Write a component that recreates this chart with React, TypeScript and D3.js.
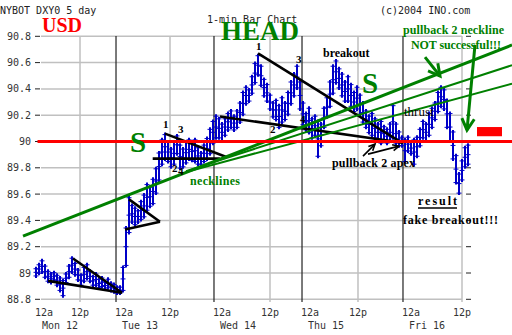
import React from 'react';
import * as d3 from 'd3';

// 1-min bars, sampled: high / low per bar (bar index axis, nights compressed)
const highs = [
  89.04, 89.07, 89.10, 89.06, 89.02, 89.00, 89.01, 88.99, 88.97, 88.95,
  89.00, 89.06, 89.12, 89.08, 89.03, 88.99, 89.05, 89.07, 89.02, 88.98,
  89.00, 88.96, 88.97, 88.94, 88.96, 88.93, 88.92, 88.90, 88.90, 89.05,
  89.35, 89.58, 89.52, 89.50, 89.48, 89.55, 89.60, 89.68, 89.66, 89.72,
  89.80, 89.92, 90.02, 90.06, 90.00, 89.95, 90.00, 90.05, 89.98, 89.95,
  90.00, 90.02, 90.00, 90.02, 89.96, 89.92, 89.98, 90.03, 90.10, 90.16,
  90.20, 90.18, 90.14, 90.18, 90.22, 90.24, 90.20, 90.24, 90.30, 90.38,
  90.42, 90.40, 90.50, 90.60, 90.66, 90.58, 90.48, 90.44, 90.36, 90.30,
  90.32, 90.28, 90.34, 90.30, 90.38, 90.46, 90.52, 90.58, 90.46, 90.30,
  90.22, 90.26, 90.18, 90.20, 90.16, 90.14, 90.26, 90.34, 90.46, 90.58,
  90.62, 90.56, 90.52, 90.46, 90.50, 90.44, 90.38, 90.42, 90.36, 90.30,
  90.24, 90.20, 90.22, 90.18, 90.14, 90.16, 90.12, 90.10, 90.14, 90.28,
  90.14, 90.08, 90.04, 90.02, 90.04, 90.00, 90.02, 90.04, 90.10, 90.16,
  90.14, 90.22, 90.26, 90.30, 90.38, 90.42, 90.40, 90.32, 90.22, 90.08,
  89.90, 89.76, 89.86, 89.96, 89.98,
];
const lows = [
  88.97, 88.99, 89.00, 88.96, 88.93, 88.92, 88.94, 88.90, 88.86, 88.82,
  88.92, 88.96, 89.00, 88.98, 88.94, 88.90, 88.93, 88.95, 88.93, 88.90,
  88.90, 88.88, 88.89, 88.87, 88.88, 88.86, 88.85, 88.84, 88.84, 88.86,
  89.05, 89.30, 89.38, 89.36, 89.38, 89.40, 89.42, 89.47, 89.50, 89.52,
  89.60, 89.70, 89.82, 89.86, 89.84, 89.80, 89.82, 89.90, 89.79, 89.80,
  89.83, 89.86, 89.85, 89.84, 89.82, 89.82, 89.84, 89.86, 89.90, 89.98,
  90.02, 90.02, 90.00, 90.04, 90.08, 90.10, 90.08, 90.10, 90.14, 90.20,
  90.28, 90.30, 90.36, 90.44, 90.50, 90.42, 90.34, 90.30, 90.24, 90.18,
  90.16, 90.10, 90.14, 90.16, 90.20, 90.28, 90.34, 90.40, 90.24, 90.12,
  90.08, 90.06, 90.02, 90.04, 89.88, 89.96, 90.10, 90.18, 90.26, 90.36,
  90.44, 90.40, 90.34, 90.30, 90.30, 90.26, 90.22, 90.24, 90.20, 90.14,
  90.10, 90.06, 90.04, 90.02, 90.00, 89.98, 90.00, 89.98, 90.00, 90.02,
  89.98, 89.96, 89.96, 89.84, 89.92, 89.90, 89.82, 89.88, 89.96, 90.02,
  90.00, 90.04, 90.10, 90.16, 90.22, 90.26, 90.24, 90.10, 90.00, 89.86,
  89.68, 89.60, 89.70, 89.80, 89.82,
];

const yTicks = [88.8, 89, 89.2, 89.4, 89.6, 89.8, 90, 90.2, 90.4, 90.6, 90.8];
const timeTickIdx = [0, 14.67, 26.67, 44.67, 59.33, 78, 88.67, 107.33, 122.33, 142];
const timeTickLabels = ['12a', '12p', '12a', '12p', '12a', '12p', '12a', '12p', '12a', '12p'];
const dayLabels = ['Mon 12', 'Tue 13', 'Wed 14', 'Thu 15', 'Fri 16'];

// annotation trendlines in [barIndex, price]
const blackLines = [
  [[12.33, 89.11], [28.67, 88.85]],
  [[4, 88.94], [28.67, 88.85]],
  [[31, 89.56], [41.33, 89.39]],
  [[29.67, 89.33], [41.33, 89.39]],
  [[38.9, 89.87], [61.3, 89.87]],
  [[43, 90.06], [63.67, 89.88]],
  [[61.33, 90.19], [122.33, 89.99]],
  [[74, 90.67], [122, 89.99]],
];
const greenLines = [
  [[-4.33, 89.28], [158.67, 90.734]],
  [[50, 89.775], [158.67, 90.58]],
  [[50, 89.767], [158.67, 90.44]],
];
const greenWidths = [3, 2, 2];
const greenArrows = [
  [[129.67, 90.642], [134.67, 90.498]],
  [[146.33, 90.734], [143.67, 90.087]],
];
const blackArrows = [
  [[109, 89.889], [113, 89.98]],
  [[110.67, 89.904], [121, 89.965]],
];
const neckPrice = 90.0;
const redBox = [[147, 90.11], [155.33, 90.04]];

const MONO = '"DejaVu Sans Mono", monospace';
const SERIF = '"Liberation Serif", "Times New Roman", serif';

function head(x1: number, y1: number, x2: number, y2: number, len: number, ang: number) {
  const a = Math.atan2(y2 - y1, x2 - x1);
  const p1 = [x2 - len * Math.cos(a - ang), y2 - len * Math.sin(a - ang)];
  const p2 = [x2 - len * Math.cos(a + ang), y2 - len * Math.sin(a + ang)];
  return `M${p1[0]},${p1[1]}L${x2},${y2}L${p2[0]},${p2[1]}`;
}

export default function App() {
  const W = 512, H = 335;
  const x = d3.scaleLinear().domain([0, 144]).range([36, 468]);
  const y = d3.scaleLinear().domain([88.8, 90.8]).range([299.3, 36.3]);
  const gx0 = 41, gx1 = 462;
  const line = d3.line<number[]>().x(d => x(d[0])).y(d => y(d[1]));

  return (
    <svg width={W} height={H} style={{ position: 'absolute', left: 0, top: 0, background: '#fff' }}>
      <rect x={0} y={0} width={W} height={H} fill="#fff" />
      {/* horizontal grid */}
      {yTicks.map(v => (
        <g key={v}>
          <line x1={gx0} x2={gx1} y1={y(v)} y2={y(v)} stroke="#c0c0c0" strokeWidth={1.5} />
          <line x1={35} x2={40} y1={y(v)} y2={y(v)} stroke="#222" strokeWidth={1} />
          <line x1={466} x2={471} y1={y(v)} y2={y(v)} stroke="#222" strokeWidth={1} />
          <text x={31} y={y(v) + 3.5} fontFamily={MONO} fontSize={10} fill="#333" textAnchor="end">
            {String(+v.toFixed(1))}
          </text>
        </g>
      ))}
      {/* vertical grid */}
      {timeTickIdx.map((t, i) => {
        const major = timeTickLabels[i] === '12a';
        return (
          <g key={i}>
            {i > 0 && (
              <line x1={x(t)} x2={x(t)} y1={36} y2={302}
                stroke={major ? '#222' : '#c0c0c0'} strokeWidth={major ? 1.2 : 1.5} />
            )}
            <text x={major ? x(t) - 1 : x(t)} y={316} fontFamily={MONO} fontSize={10} fill="#333"
              textAnchor={major ? 'start' : 'middle'}>{timeTickLabels[i]}</text>
          </g>
        );
      })}
      {timeTickIdx.filter((_, i) => timeTickLabels[i] === '12a').map((t, i) => (
        <text key={'d' + i} x={x(t) + 6} y={329} fontFamily={MONO} fontSize={10} fill="#333">{dayLabels[i]}</text>
      ))}
      {/* price bars */}
      <g stroke="#0000c8">
        {highs.map((h, i) => (
          <g key={i}>
            <line x1={x(i)} x2={x(i)} y1={y(h) - 1} y2={y(lows[i]) + 1} strokeWidth={2} />
            <line x1={x(i) - 2.5} x2={x(i) + 2.5} y1={y(h) + 1} y2={y(h) + 1} strokeWidth={1} />
            <line x1={x(i) - 2.5} x2={x(i) + 2.5} y1={y(lows[i]) - 1} y2={y(lows[i]) - 1} strokeWidth={1} />
            <line x1={x(i) - 2.5} x2={x(i) + 2.5} y1={(y(h) + y(lows[i])) / 2} y2={(y(h) + y(lows[i])) / 2} strokeWidth={1} />
          </g>
        ))}
      </g>
      {/* black trendlines */}
      {blackLines.map((l, i) => (
        <path key={i} d={line(l as number[][]) || ''} stroke="#000" strokeWidth={2.6} fill="none" />
      ))}
      {/* green necklines */}
      {greenLines.map((l, i) => (
        <path key={i} d={line(l as number[][]) || ''} stroke="#008000" strokeWidth={greenWidths[i]} fill="none" />
      ))}
      {/* red line at 90 */}
      <line x1={x(0.5)} x2={512} y1={y(neckPrice)} y2={y(neckPrice)} stroke="#ff0000" strokeWidth={3} />
      <rect x={x(redBox[0][0])} y={y(redBox[0][1])} width={x(redBox[1][0]) - x(redBox[0][0])}
        height={y(redBox[1][1]) - y(redBox[0][1])} fill="#ff0000" />
      {/* arrows */}
      {greenArrows.map((a, i) => {
        const [x1, y1, x2, y2] = [x(a[0][0]), y(a[0][1]), x(a[1][0]), y(a[1][1])];
        return (
          <g key={i} stroke="#008000" strokeWidth={3} fill="none">
            <line x1={x1} y1={y1} x2={x2} y2={y2} />
            <path d={head(x1, y1, x2, y2, 13, 0.5)} />
          </g>
        );
      })}
      {blackArrows.map((a, i) => {
        const [x1, y1, x2, y2] = [x(a[0][0]), y(a[0][1]), x(a[1][0]), y(a[1][1])];
        return (
          <g key={i} stroke="#000" strokeWidth={1.6} fill="none">
            <line x1={x1} y1={y1} x2={x2} y2={y2} />
            <path d={head(x1, y1, x2, y2, 7, 0.45)} />
          </g>
        );
      })}
      {/* header texts */}
      <text x={0} y={14} fontFamily={MONO} fontSize={10} fill="#222">NYBOT DXY0 5 day</text>
      <text x={207} y={23} fontFamily={MONO} fontSize={10} fill="#222">1-min Bar Chart</text>
      <text x={380} y={14} fontFamily={MONO} fontSize={10} fill="#222">(c)2004 INO.com</text>
      {/* annotations */}
      <g fontFamily={SERIF} fontWeight="bold">
        <text x={42} y={32} fontSize={20} fill="#ff0000">USD</text>
        <text x={221} y={40} fontSize={27} fill="#008000">HEAD</text>
        <text x={130} y={152} fontSize={29} fill="#008000">S</text>
        <text x={362} y={93} fontSize={29} fill="#008000">S</text>
        <text x={323} y={57} fontSize={12} fill="#000">breakout</text>
        <text x={403} y={34} fontSize={12} fill="#008000" textLength={101}>pullback 2 neckline</text>
        <text x={411} y={49} fontSize={12} fill="#008000" textLength={90}>NOT successful!!!</text>
        <text x={190} y={185} fontSize={12} fill="#008000" textLength={50}>necklines</text>
        <text x={332} y={167} fontSize={12} fill="#000" textLength={83}>pullback 2 apex</text>
        <text x={418} y={205} fontSize={12} fill="#000" textLength={39}>result</text>
        <text x={403} y={224} fontSize={12} fill="#000" textLength={95}>fake breakout!!!</text>
        <text x={163} y={128} fontSize={11} fill="#000">1</text>
        <text x={178} y={133} fontSize={11} fill="#000">3</text>
        <text x={172} y={172} fontSize={11} fill="#000">2</text>
        <text x={178} y={175} fontSize={11} fill="#000">4</text>
        <text x={256} y={50} fontSize={11} fill="#000">1</text>
        <text x={296} y={63} fontSize={11} fill="#000">3</text>
        <text x={270} y={133} fontSize={11} fill="#000">2</text>
        <text x={300} y={123} fontSize={11} fill="#000">4</text>
      </g>
      <line x1={418} x2={457} y1={208} y2={208} stroke="#000" strokeWidth={1.5} />
      <text x={404} y={116} fontFamily={SERIF} fontSize={13} fill="#000">thrust</text>
    </svg>
  );
}
